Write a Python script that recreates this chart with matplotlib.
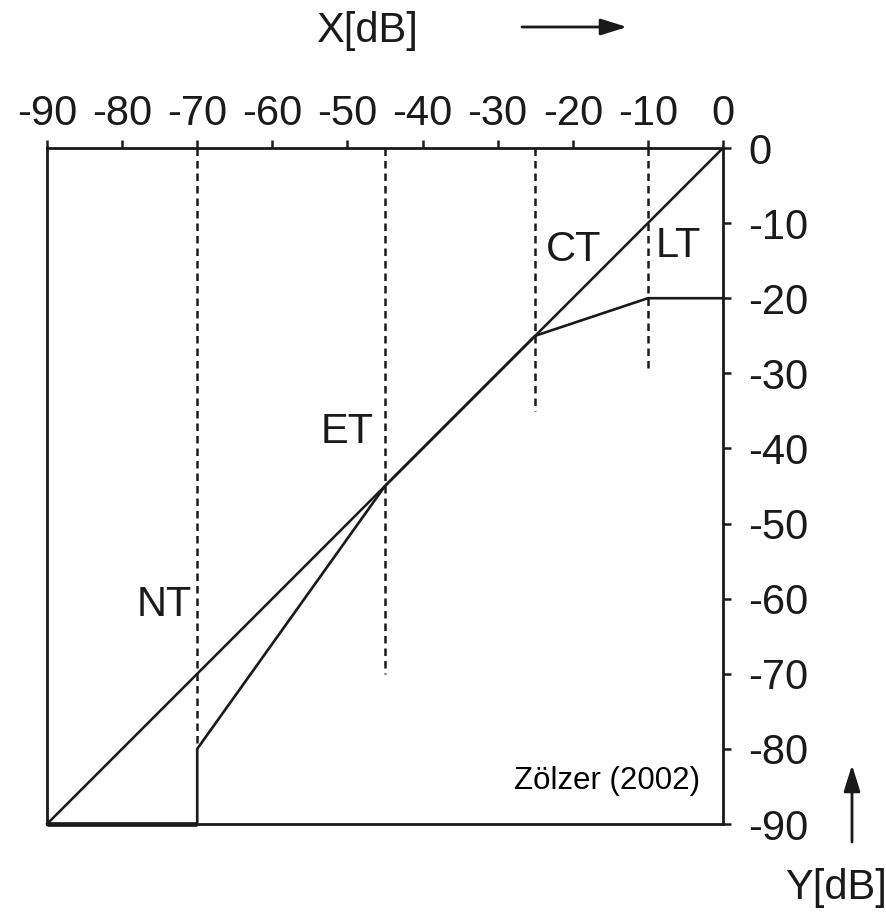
import matplotlib
matplotlib.use("Agg")
import matplotlib.pyplot as plt

plt.rcParams['font.family'] = ['Liberation Sans', 'DejaVu Sans']

# Static characteristic of a dynamic range controller (input X vs output Y, dB)
ticks = [-90, -80, -70, -60, -50, -40, -30, -20, -10, 0]
tick_labels = [str(t) for t in ticks]

# Unity-gain reference line
ref_x = [-90, 0]
ref_y = [-90, 0]

# Characteristic curve: noise gate, expander, unity, compressor, limiter
curve_x = [-70, -70, -45, -25, -10, 0]
curve_y = [-90, -80, -45, -25, -20, -20]
gate_x = [-90, -70]
gate_y = [-90, -90]

# Thresholds (NT, ET, CT, LT) and the lower end of each dashed marker
thresh_x = [-70, -45, -25, -10]
thresh_low = [-80, -70, -35, -30]
thresh_names = ["NT", "ET", "CT", "LT"]
name_pos_x = [-74.4, -50.1, -19.9, -5.9]
name_pos_y = [-60.8, -37.8, -13.6, -13.0]

W, H = 887, 913
fig = plt.figure(figsize=(W / 100, H / 100), dpi=100)
ax = fig.add_axes([47 / W, (H - 824) / H, 676 / W, 676 / H])
ax.set_xlim(-90, 0)
ax.set_ylim(-90, 0)

for s in ax.spines.values():
    s.set_linewidth(2.0)
    s.set_color('#1a1a1a')

ax.xaxis.tick_top()
ax.yaxis.tick_right()
ax.set_xticks(ticks)
ax.set_xticklabels(tick_labels)
ax.set_yticks(ticks)
ax.set_yticklabels(tick_labels)
ax.tick_params(axis='both', direction='out', length=6, width=1.8,
               colors='#1a1a1a', labelsize=30, labelcolor='#1a1a1a')
ax.tick_params(axis='x', pad=4)
ax.tick_params(axis='y', pad=12)
for lab in ax.get_yticklabels():
    lab.set_horizontalalignment('left')

# Dashed threshold markers
for x, lo in zip(thresh_x, thresh_low):
    ax.plot([x, x], [0, lo], color='#1a1a1a', lw=1.8,
            linestyle=(0, (3.0, 2.0)), clip_on=False, zorder=2)

ax.plot(ref_x, ref_y, color='#1a1a1a', lw=1.8, clip_on=False, zorder=3)
ax.plot(curve_x, curve_y, color='#1a1a1a', lw=1.9, clip_on=False, zorder=3)
ax.plot(gate_x, gate_y, color='#1a1a1a', lw=3.4, clip_on=False,
        solid_capstyle='butt', zorder=4)

for name, x, y in zip(thresh_names, name_pos_x, name_pos_y):
    ax.text(x, y, name, fontsize=30, ha='center', va='center', color='#1a1a1a')

ax.text(-15.5, -84.3, "Zölzer (2002)", fontsize=22.5, ha='center', va='center',
        color='black')

# Axis names with direction arrows
fig.text(367 / W, 1 - 31 / H, "X[dB]", fontsize=30, ha='center', va='center',
         color='#1a1a1a')
fig.text(836 / W, 1 - 888 / H, "Y[dB]", fontsize=30, ha='center', va='center',
         color='#1a1a1a')
arrow = dict(arrowstyle='-|>,head_length=1.6,head_width=0.5', color='#1a1a1a',
             lw=2.0, shrinkA=0, shrinkB=0)
ax.annotate("", xy=(627, H - 27), xytext=(522, H - 27),
            xycoords='figure pixels', textcoords='figure pixels',
            arrowprops=arrow, annotation_clip=False)
ax.annotate("", xy=(852, H - 765), xytext=(852, H - 842),
            xycoords='figure pixels', textcoords='figure pixels',
            arrowprops=arrow, annotation_clip=False)

fig.savefig("out.png", dpi=100)
